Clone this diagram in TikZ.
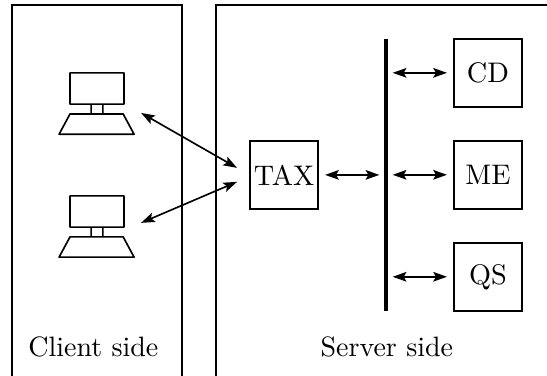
\documentclass[tikz,border=0pt]{standalone}
\usetikzlibrary{positioning,arrows.meta}
\tikzset{
  boxnode/.style={draw,line width=0.6pt,minimum size=0.87cm,inner sep=0pt,outer sep=0.09cm},
  busnode/.style={fill=black,minimum width=0.05cm,minimum height=3.48cm,inner sep=0pt,outer sep=0.06cm},
  link/.style={{Stealth[length=5pt,width=3.5pt,inset=1pt]}-{Stealth[length=5pt,width=3.5pt,inset=1pt]},line width=0.6pt}
}
\begin{document}
\begin{tikzpicture}[line width=0.6pt,scale=1]
  \useasboundingbox (0,0) rectangle (7,4.81);
  % the two sides
  \draw (0.154,0)--(0.154,4.748)--(2.33,4.748)--(2.33,0);
  \draw (2.764,0)--(2.764,4.748)--(7,4.748);
  \node[scale=1.02] (client) at (1.195,0.37) {Client side};
  \node[scale=1.02] (server) at (4.95,0.37) {Server side};

  \node[boxnode] (tax) at (3.635,2.572) {\scalebox{1.03}{TAX}};
  \node[busnode] (bus) at (4.94,2.572) {};
  \node[boxnode] (cd) at (6.245,3.878) {\scalebox{1.03}{CD}};
  \node[boxnode,below=1.305cm-0.87cm-0.18cm of cd] (me) {\scalebox{1.03}{ME}};
  \node[boxnode,below=1.305cm-0.87cm-0.18cm of me] (qs) {\scalebox{1.03}{QS}};

  % computers, from the top left corner of the screen
  \coordinate (pca) at (0.896,3.877);
  \coordinate (pcb) at (0.896,2.304);
  \foreach \pc in {pca,pcb}{
    \draw[line join=round] (\pc)--++(0.69,0)--++(0,-0.4)--++(-0.69,0)--cycle
    (\pc)++(0.27,-0.4)--++(0,-0.125)
    (\pc)++(0.42,-0.4)--++(0,-0.125)
    (\pc)++(0,-0.525)--++(0.68,0)--++(0.14,-0.26)--++(-0.96,0)--cycle;
  }

  \coordinate (pcaport) at (1.805,3.365);
  \coordinate (pcbport) at (1.805,1.958);
  \coordinate (taxa) at (3.033,2.662);
  \coordinate (taxb) at (3.033,2.483);
  \draw[link] (pcaport)--(taxa);
  \draw[link] (pcbport)--(taxb);

  \draw[link] (tax.east)--(tax.east -| bus.west);
  \draw[link] (bus.east |- cd.west)--(cd.west);
  \draw[link] (bus.east |- me.west)--(me.west);
  \draw[link] (bus.east |- qs.west)--(qs.west);
\end{tikzpicture}
\end{document}
